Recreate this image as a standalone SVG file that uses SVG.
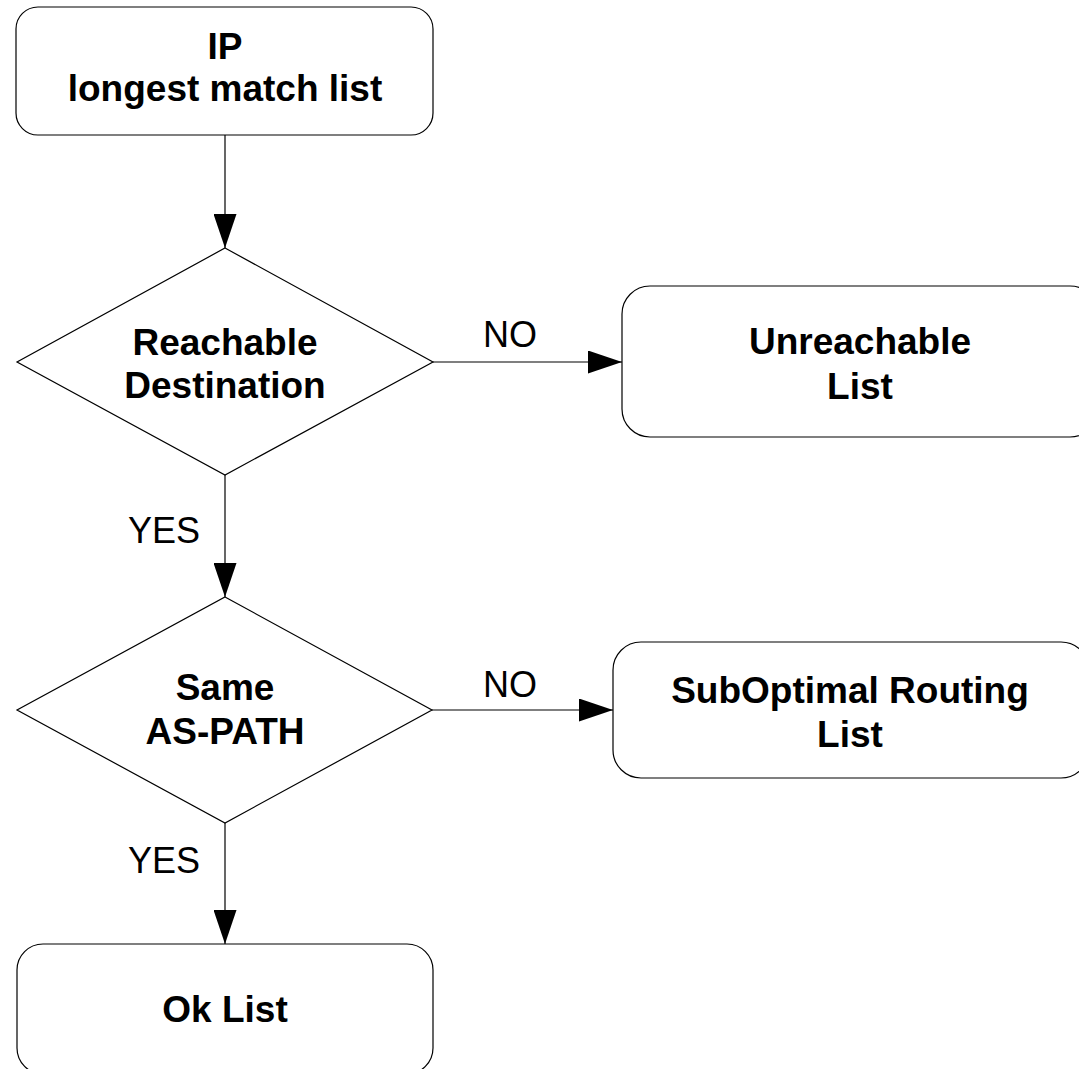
<svg xmlns="http://www.w3.org/2000/svg" width="1079" height="1069" viewBox="0 0 1079 1069">
  <defs>
    <style>
      .shape { fill: #ffffff; stroke: #000000; stroke-width: 1.2; }
      .edge { fill: none; stroke: #000000; stroke-width: 1.2; }
      .title { font-family: "Liberation Sans", Arial, sans-serif; font-size: 37px; font-weight: bold; fill: #000000; text-anchor: middle; }
      .label { font-family: "Liberation Sans", Arial, sans-serif; font-size: 36px; fill: #000000; text-anchor: middle; }
    </style>
    <marker id="arrow" viewBox="0 0 34 23" refX="34" refY="11.5" markerWidth="34" markerHeight="23" markerUnits="userSpaceOnUse" orient="auto">
      <path d="M0,0 L34,11.5 L0,23 Z" fill="#000000"/>
    </marker>
  </defs>
  <rect width="1079" height="1069" fill="#ffffff"/>

  <!-- connectors -->
  <g id="connectors">
    <path class="edge" d="M225,135 L225,248" marker-end="url(#arrow)"/>
    <path class="edge" d="M433,362 L622,362" marker-end="url(#arrow)"/>
    <text class="label" x="510" y="347">NO</text>
    <path class="edge" d="M225,475 L225,597" marker-end="url(#arrow)"/>
    <text class="label" x="164" y="543">YES</text>
    <path class="edge" d="M432,710 L613,710" marker-end="url(#arrow)"/>
    <text class="label" x="510" y="697">NO</text>
    <path class="edge" d="M225,823 L225,944" marker-end="url(#arrow)"/>
    <text class="label" x="164" y="873">YES</text>
  </g>

  <!-- start node -->
  <g id="ip-longest-match">
    <rect class="shape" x="16" y="7" width="417" height="128" rx="22" ry="22"/>
    <text class="title" x="225" y="59">IP</text>
    <text class="title" x="225" y="101">longest match list</text>
  </g>

  <!-- decision: reachable -->
  <g id="reachable-destination">
    <polygon class="shape" points="225,248 433,362 225,475 17,362"/>
    <text class="title" x="225" y="355">Reachable</text>
    <text class="title" x="225" y="398">Destination</text>
  </g>

  <g id="unreachable-list">
    <rect class="shape" x="622" y="286" width="476" height="151" rx="28" ry="28"/>
    <text class="title" x="860" y="354">Unreachable</text>
    <text class="title" x="860" y="399">List</text>
  </g>

  <!-- decision: same as-path -->
  <g id="same-as-path">
    <polygon class="shape" points="225,597 432,710 225,823 17,710"/>
    <text class="title" x="225" y="700">Same</text>
    <text class="title" x="225" y="744">AS-PATH</text>
  </g>

  <g id="suboptimal-routing-list">
    <rect class="shape" x="613" y="642" width="476" height="136" rx="28" ry="28"/>
    <text class="title" x="850" y="703">SubOptimal Routing</text>
    <text class="title" x="850" y="747">List</text>
  </g>

  <g id="ok-list">
    <rect class="shape" x="17" y="944" width="416" height="130" rx="26" ry="26"/>
    <text class="title" x="225" y="1022">Ok List</text>
  </g>
</svg>
